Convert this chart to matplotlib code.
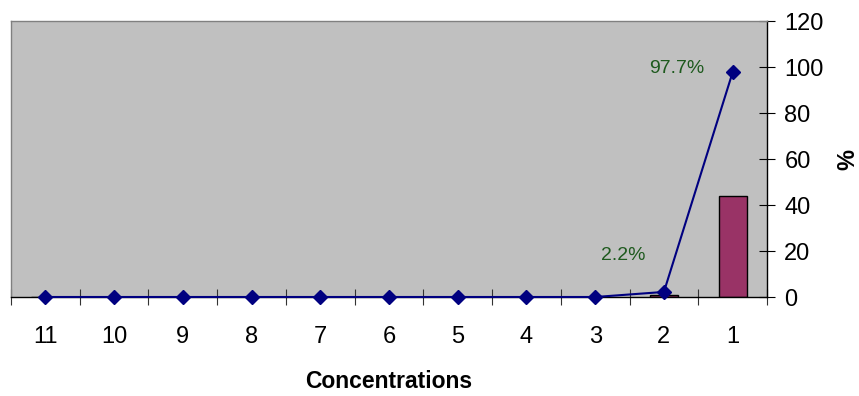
import numpy as np
import matplotlib

matplotlib.use('Agg')
import matplotlib.pyplot as plt

plt.rcParams['font.family'] = ['Liberation Sans', 'DejaVu Sans']

# Concentration steps, highest dilution on the left
categories = ['11', '10', '9', '8', '7', '6', '5', '4', '3', '2', '1']
bar_values = [0, 0, 0, 0, 0, 0, 0, 0, 0, 0.7, 44.0]
line_values = [0, 0, 0, 0, 0, 0, 0, 0, 0, 2.2, 97.7]
point_labels = {9: '2.2%', 10: '97.7%'}
# label offsets in points from their marker
label_offsets = {9: (-29, 26), 10: (-40, 3)}

fig = plt.figure(figsize=(8.59, 3.96), dpi=100)
ax = fig.add_axes([11 / 859, 1 - 297 / 396, (767 - 11) / 859, (297 - 21) / 396])

x = np.arange(len(categories))
ax.set_facecolor('#C0C0C0')
ax.bar(x, bar_values, width=0.41, color='#993366', edgecolor='black', linewidth=1, zorder=2)
ax.plot(x, line_values, color='#000080', linewidth=1.5, marker='D', markersize=7.5,
        markerfacecolor='#000080', markeredgecolor='#000080', zorder=3, clip_on=False)

for i, txt in point_labels.items():
    ax.annotate(txt, (x[i], line_values[i]), xytext=label_offsets[i], textcoords='offset points',
                ha='center', va='center', color='#1E5A1E', fontsize=14)

ax.set_xlim(-0.5, len(categories) - 0.5)
ax.set_ylim(0, 120)
ax.set_yticks(np.arange(0, 121, 20))

# x ticks sit between categories, labels centred under each category
ax.set_xticks(np.arange(-0.5, len(categories), 1.0))
ax.set_xticklabels([])
ax.set_xticks(x, minor=True)
ax.set_xticklabels(categories, minor=True, fontsize=17)
ax.tick_params(axis='x', which='major', direction='inout', length=11, width=0.8, color='#333333')
ax.tick_params(axis='x', which='minor', length=0, pad=21)

ax.yaxis.tick_right()
ax.yaxis.set_label_position('right')
ax.tick_params(axis='y', direction='inout', length=11, width=0.8, labelsize=17, pad=7)

ax.spines['left'].set_color('#808080')
ax.spines['top'].set_color('#808080')
ax.spines['right'].set_color('black')
ax.spines['bottom'].set_color('black')
for s in ax.spines.values():
    s.set_linewidth(1)

ax.set_ylabel('%', fontsize=17, fontweight='bold', rotation=90, labelpad=9)
ax.set_xlabel('Concentrations', fontsize=16.5, fontweight='bold', labelpad=16)

fig.savefig('out.png', dpi=100)
